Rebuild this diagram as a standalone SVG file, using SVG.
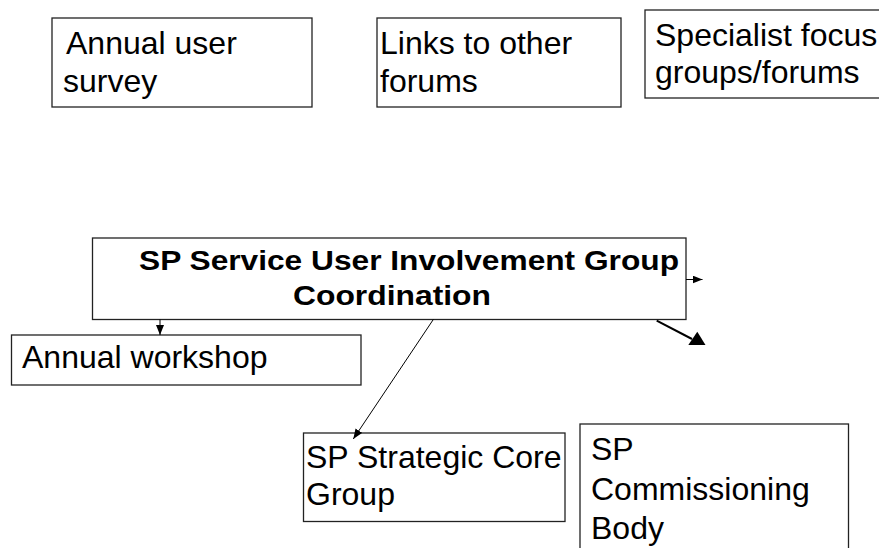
<svg xmlns="http://www.w3.org/2000/svg" width="879" height="548" viewBox="0 0 879 548">
<style>
.box{fill:#fff;stroke:#222;stroke-width:1.3}
.t{font-family:"Liberation Sans",Arial,sans-serif;font-size:32px;fill:#000}
.b{font-family:"Liberation Sans",Arial,sans-serif;font-size:28px;font-weight:bold;fill:#000}
.ln{stroke:#000;stroke-width:1;fill:none}
</style>
<defs>
<marker id="sm" markerUnits="userSpaceOnUse" markerWidth="10" markerHeight="8" refX="10" refY="4" orient="auto">
<path d="M0,0 L10,4 L0,8 Z" fill="#000"/>
</marker>
</defs>
<rect width="879" height="548" fill="#fff"/>
<g id="annual-survey">
<rect class="box" x="52" y="18" width="260" height="89"/>
<text class="t" x="66" y="54">Annual user</text>
<text class="t" x="63" y="92">survey</text>
</g>
<g id="links-forums">
<rect class="box" x="377" y="18" width="244" height="89"/>
<text class="t" x="380" y="54">Links to other</text>
<text class="t" x="380" y="92">forums</text>
</g>
<g id="specialist">
<rect class="box" x="645" y="10" width="260" height="88"/>
<text class="t" x="655" y="46">Specialist focus</text>
<text class="t" x="655" y="83">groups/forums</text>
</g>
<g id="coordination">
<rect class="box" x="92.5" y="238" width="593.5" height="81.5"/>
<text class="b" x="139" y="270" textLength="540" lengthAdjust="spacingAndGlyphs">SP Service User Involvement Group</text>
<text class="b" x="293" y="305" textLength="198" lengthAdjust="spacingAndGlyphs">Coordination</text>
</g>
<g id="annual-workshop">
<rect class="box" x="11.5" y="335" width="349.5" height="50"/>
<text class="t" x="22" y="368">Annual workshop</text>
</g>
<g id="strategic-core">
<rect class="box" x="303.5" y="433" width="261.5" height="88.5"/>
<text class="t" x="306" y="468">SP Strategic Core</text>
<text class="t" x="306" y="505">Group</text>
</g>
<g id="commissioning">
<rect class="box" x="580" y="424" width="268.5" height="140"/>
<text class="t" x="591" y="460">SP</text>
<text class="t" x="591" y="500">Commissioning</text>
<text class="t" x="591" y="539">Body</text>
</g>
<g id="connectors">
<line class="ln" x1="686" y1="279.5" x2="702.5" y2="279.5" marker-end="url(#sm)"/>
<line class="ln" x1="160" y1="319.5" x2="160" y2="335" marker-end="url(#sm)"/>
<line class="ln" x1="433.3" y1="319.5" x2="353.3" y2="439" marker-end="url(#sm)"/>
<line x1="656.7" y1="320.7" x2="692" y2="339" stroke="#000" stroke-width="2"/>
<polygon points="688.3,345 705.5,345 697.3,331.7" fill="#000"/>
</g>
</svg>
